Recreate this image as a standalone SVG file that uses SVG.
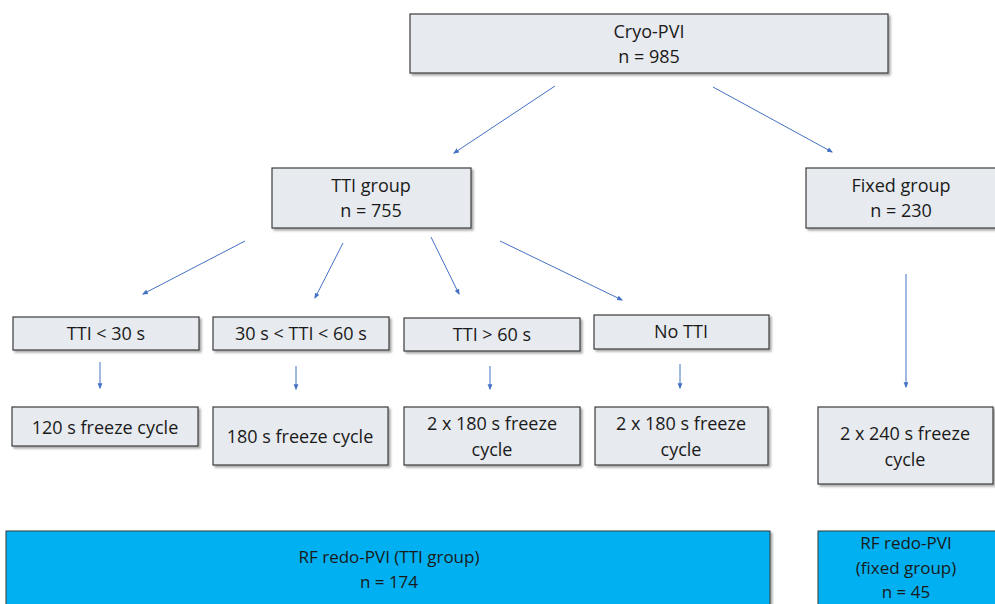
<svg xmlns="http://www.w3.org/2000/svg" width="995" height="604" viewBox="0 0 995 604">
<defs>
<marker id="ah" viewBox="0 0 10 10" refX="8" refY="5" markerWidth="6" markerHeight="6" orient="auto" markerUnits="userSpaceOnUse">
<path d="M0,1 L10,5 L0,9 z" fill="#4472c4"/>
</marker>
<filter id="sh" x="-5%" y="-5%" width="115%" height="130%">
<feDropShadow dx="2" dy="2" stdDeviation="1.2" flood-color="#000" flood-opacity="0.35"/>
</filter>
</defs>
<style>
.box{fill:#e7eaee;stroke:#3b3b3b;stroke-width:1.2;filter:url(#sh)}
.blue{fill:#00b0f0;stroke:#3b3b3b;stroke-width:1;filter:url(#sh)}
text{font-family:"Open Sans","Liberation Sans",sans-serif;font-size:18px;fill:#1a1a1a;text-anchor:middle}
.b{font-size:17px}
.c line{stroke:#4472c4;stroke-width:1;marker-end:url(#ah)}
</style>
<rect width="995" height="604" fill="#fff"/>
<g id="cryo"><rect class="box" x="410" y="14" width="478" height="59"/><text x="649" y="38">Cryo-PVI</text><text x="649" y="63">n = 985</text></g>
<g id="tti"><rect class="box" x="272" y="168" width="199" height="60"/><text x="371" y="192">TTI group</text><text x="371" y="217">n = 755</text></g>
<g id="fixed"><rect class="box" x="806" y="168" width="196" height="60"/><text x="901" y="192">Fixed group</text><text x="901" y="217">n = 230</text></g>
<g id="tti30"><rect class="box" x="13" y="317" width="186" height="33"/><text x="106" y="340">TTI &lt; 30 s</text></g>
<g id="tti3060"><rect class="box" x="213" y="317" width="176" height="33"/><text x="301" y="340">30 s &lt; TTI &lt; 60 s</text></g>
<g id="tti60"><rect class="box" x="404" y="318" width="176" height="33"/><text x="492" y="341">TTI &gt; 60 s</text></g>
<g id="notti"><rect class="box" x="594" y="315" width="175" height="34"/><text x="681" y="338">No TTI</text></g>
<g id="f120"><rect class="box" x="12" y="407" width="186" height="39"/><text x="105" y="434">120 s freeze cycle</text></g>
<g id="f180"><rect class="box" x="213" y="407" width="175" height="58"/><text x="300" y="443">180 s freeze cycle</text></g>
<g id="f2x180a"><rect class="box" x="404" y="407" width="176" height="58"/><text x="492" y="430">2 x 180 s freeze</text><text x="492" y="456">cycle</text></g>
<g id="f2x180b"><rect class="box" x="595" y="407" width="173" height="58"/><text x="681" y="430">2 x 180 s freeze</text><text x="681" y="456">cycle</text></g>
<g id="f2x240"><rect class="box" x="818" y="407" width="175" height="77"/><text x="905" y="440">2 x 240 s freeze</text><text x="905" y="466">cycle</text></g>
<g id="rfTti"><rect class="blue" x="6" y="531" width="764" height="80"/><text class="b" x="389" y="563">RF redo-PVI (TTI group)</text><text class="b" x="389" y="588">n = 174</text></g>
<g id="rfFixed"><rect class="blue" x="818" y="531" width="180" height="80"/><text class="b" x="906" y="549">RF redo-PVI</text><text class="b" x="906" y="574">(fixed group)</text><text class="b" x="906" y="598">n = 45</text></g>
<g class="c" id="connectors">
<line x1="555" y1="86" x2="454" y2="153"/>
<line x1="713" y1="87" x2="832" y2="152"/>
<line x1="245" y1="241" x2="143" y2="294"/>
<line x1="343" y1="243" x2="315" y2="298"/>
<line x1="431" y1="237" x2="459" y2="294"/>
<line x1="500" y1="241" x2="622" y2="300"/>
<line x1="906" y1="274" x2="906" y2="387"/>
<line x1="100" y1="362" x2="100" y2="388"/>
<line x1="296" y1="366" x2="296" y2="389"/>
<line x1="490" y1="366" x2="490" y2="389"/>
<line x1="680" y1="364" x2="680" y2="388"/>
</g>
</svg>
